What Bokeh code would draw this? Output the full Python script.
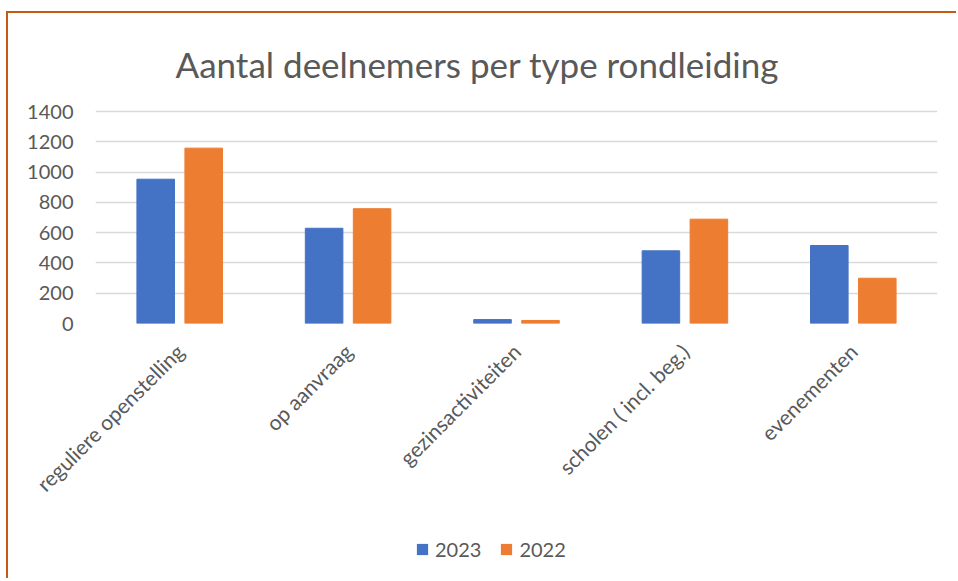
import math
from bokeh.plotting import figure
from bokeh.layouts import column
from bokeh.models import ColumnDataSource, FactorRange, Legend, LegendItem, Range1d, FixedTicker
from bokeh.transform import dodge
from bokeh.embed import file_html
from bokeh.resources import INLINE

categories = ["reguliere openstelling", "op aanvraag", "gezinsactiviteiten",
              "scholen ( incl. beg.)", "evenementen"]
values_2023 = [953, 629, 26, 480, 515]
values_2022 = [1158, 758, 20, 689, 299]
series_names = ["2023", "2022"]
y_ticks = [0, 200, 400, 600, 800, 1000, 1200, 1400]

BLUE = "#4472C4"
ORANGE = "#ED7D31"
TEXT = "#595959"
FONT = "Lato"

src = ColumnDataSource(dict(cat=categories, v2023=values_2023, v2022=values_2022))

# ---------------- layout (pixels) ----------------
W, H1, H2 = 948, 510, 55
TOP = 96
DATA_PX = 212          # pixels from 0 to the top tick
FRAME_H = 214          # a little headroom so the top grid line is fully visible
y_end = y_ticks[-1] * FRAME_H / DATA_PX

p = figure(x_range=FactorRange(*categories, range_padding=0),
           y_range=Range1d(0, y_end),
           width=W, height=H1, output_backend="svg", toolbar_location=None,
           min_border_left=87, min_border_right=19, min_border_top=TOP,
           min_border_bottom=H1 - TOP - FRAME_H,
           title="Aantal deelnemers per type rondleiding")

p.title.align = "left"
p.title.offset = 80
p.title.text_font = FONT
p.title.text_font_size = "35px"
p.title.text_font_style = "normal"
p.title.text_color = TEXT
p.title.standoff = 50

r1 = p.vbar(x=dodge("cat", -0.1425, range=p.x_range), top="v2023", width=0.223,
            source=src, fill_color=BLUE, line_color=BLUE)
r2 = p.vbar(x=dodge("cat", 0.1425, range=p.x_range), top="v2022", width=0.223,
            source=src, fill_color=ORANGE, line_color=ORANGE)

p.outline_line_color = None
p.background_fill_color = "white"
p.border_fill_color = "white"

p.xgrid.grid_line_color = None
p.ygrid.grid_line_color = "#D9D9D9"
p.ygrid.grid_line_width = 1.5
p.ygrid.ticker = FixedTicker(ticks=y_ticks)

p.yaxis.ticker = FixedTicker(ticks=y_ticks)
p.yaxis.axis_line_color = None
p.yaxis.major_tick_line_color = None
p.yaxis.minor_tick_line_color = None
p.yaxis.major_label_text_font = FONT
p.yaxis.major_label_text_font_size = "20px"
p.yaxis.major_label_text_color = TEXT
p.yaxis.major_label_standoff = 16

p.xaxis.axis_line_color = None
p.xaxis.major_tick_line_color = None
p.xaxis.minor_tick_line_color = None
p.xaxis.major_label_text_font = FONT
p.xaxis.major_label_text_font_size = "21px"
p.xaxis.major_label_text_color = TEXT
p.xaxis.major_label_orientation = math.pi / 4
p.xaxis.major_label_standoff = 18

# ---------------- legend strip ----------------
# same series again, with zero width and out of view: only the legend swatches show
p2 = figure(width=W, height=H2, output_backend="svg", toolbar_location=None,
            x_range=p.x_range, y_range=Range1d(-2, -1),
            x_axis_location=None, y_axis_location=None, min_border=0)
p2.grid.visible = False
p2.outline_line_color = None
p2.background_fill_color = "white"
p2.border_fill_color = "white"

l1 = p2.vbar(x="cat", top="v2023", width=0, source=src,
             fill_color=BLUE, line_color=None)
l2 = p2.vbar(x="cat", top="v2022", width=0, source=src,
             fill_color=ORANGE, line_color=None)

legend = Legend(items=[LegendItem(label=series_names[0], renderers=[l1]),
                       LegendItem(label=series_names[1], renderers=[l2])],
                orientation="horizontal", location=(320, 17),
                padding=0, margin=0, spacing=18, label_standoff=6,
                glyph_width=14, glyph_height=14,
                label_text_font=FONT, label_text_font_size="20px",
                label_text_color=TEXT, border_line_color=None,
                background_fill_alpha=0)
p2.add_layout(legend, "center")

layout = column(p, p2, spacing=0)
layout.styles = {"border-top": "2px solid #C55A11", "border-left": "2px solid #C55A11",
                 "margin-left": "6px", "margin-top": "11px"}

open("out.html", "w").write(file_html(layout, INLINE))
